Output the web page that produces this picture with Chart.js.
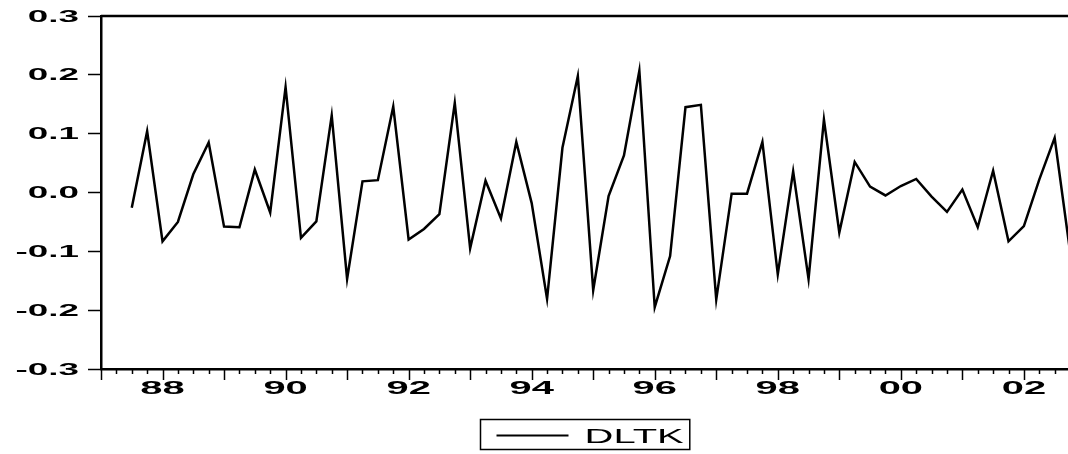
<!DOCTYPE html>
<html>
<head>
<meta charset="utf-8">
<script src="https://cdn.jsdelivr.net/npm/chart.js@4/dist/chart.umd.min.js"></script>
<style>
  html, body { margin: 0; padding: 0; background: #fff; }
  #chart { display: block; }
</style>
</head>
<body>
<canvas id="chart" width="1068" height="454"></canvas>
<script>
// Quarterly observations, 1987Q3 - 2002Q4
const quarters = [
    '1987Q3','1987Q4',
    '1988Q1','1988Q2','1988Q3','1988Q4','1989Q1','1989Q2','1989Q3','1989Q4',
    '1990Q1','1990Q2','1990Q3','1990Q4','1991Q1','1991Q2','1991Q3','1991Q4',
    '1992Q1','1992Q2','1992Q3','1992Q4','1993Q1','1993Q2','1993Q3','1993Q4',
    '1994Q1','1994Q2','1994Q3','1994Q4','1995Q1','1995Q2','1995Q3','1995Q4',
    '1996Q1','1996Q2','1996Q3','1996Q4','1997Q1','1997Q2','1997Q3','1997Q4',
    '1998Q1','1998Q2','1998Q3','1998Q4','1999Q1','1999Q2','1999Q3','1999Q4',
    '2000Q1','2000Q2','2000Q3','2000Q4','2001Q1','2001Q2','2001Q3','2001Q4',
    '2002Q1','2002Q2','2002Q3','2002Q4'
];

const dltk = [
    -0.026, 0.104,
    -0.083, -0.050, 0.031, 0.085, -0.058, -0.059, 0.039, -0.034,
    0.179, -0.077, -0.049, 0.131, -0.147, 0.019, 0.021, 0.146,
    -0.080, -0.062, -0.037, 0.152, -0.095, 0.020, -0.044, 0.086,
    -0.018, -0.181, 0.076, 0.198, -0.166, -0.006, 0.063, 0.207,
    -0.195, -0.108, 0.145, 0.149, -0.182, -0.002, -0.002, 0.086,
    -0.139, 0.036, -0.147, 0.124, -0.068, 0.052, 0.010, -0.005,
    0.011, 0.023, -0.007, -0.033, 0.005, -0.059, 0.037, -0.083,
    -0.057, 0.022, 0.093, -0.100
];

// Axis labels
const yTicks = [-0.3, -0.2, -0.1, 0.0, 0.1, 0.2, 0.3];
const yTickLabels = ['-0.3', '-0.2', '-0.1', '0.0', '0.1', '0.2', '0.3'];
const labelYears = [1988, 1990, 1992, 1994, 1996, 1998, 2000, 2002];
const yearLabels = ['88', '90', '92', '94', '96', '98', '00', '02'];

// quarter string -> fractional year on the x scale
function quarterToX(q) {
    const year = parseInt(q.slice(0, 4), 10);
    const qn = parseInt(q.slice(5), 10);
    return year + (qn - 1) / 4;
}

const points = quarters.map((q, i) => ({ x: quarterToX(q), y: dltk[i] }));

// stretched text, the scan is squeezed wide
function wideText(ctx, text, x, y, sx, align) {
    ctx.save();
    ctx.translate(x, y);
    ctx.scale(sx, 1);
    ctx.textAlign = align;
    ctx.fillText(text, 0, 0);
    ctx.restore();
}

const frameAndLabels = {
    id: 'frameAndLabels',
    afterDraw(chart) {
        const { ctx, chartArea, scales } = chart;
        const x = scales.x, y = scales.y;
        ctx.save();
        ctx.strokeStyle = '#000';
        ctx.fillStyle = '#000';

        // top frame line
        ctx.lineWidth = 2.5;
        ctx.beginPath();
        ctx.moveTo(chartArea.left, chartArea.top);
        ctx.lineTo(chartArea.right, chartArea.top);
        ctx.stroke();

        // quarter / year tick marks below the axis
        ctx.lineWidth = 1.5;
        x.ticks.forEach(t => {
            const q4 = t.value * 4;
            if (Math.abs(q4 - Math.round(q4)) > 1e-6) return;
            const px = Math.round(x.getPixelForValue(t.value)) + 0.5;
            const len = Math.round(q4) % 4 === 0 ? 11 : 5;
            ctx.beginPath();
            ctx.moveTo(px, chartArea.bottom);
            ctx.lineTo(px, chartArea.bottom + len);
            ctx.stroke();
        });

        // x labels
        ctx.font = 'bold 19px "Liberation Sans", Arial, sans-serif';
        ctx.textBaseline = 'alphabetic';
        labelYears.forEach((yr, i) => {
            wideText(ctx, yearLabels[i], x.getPixelForValue(yr), chartArea.bottom + 25, 2.1, 'center');
        });

        // y labels
        ctx.font = 'bold 16px "Liberation Sans", Arial, sans-serif';
        yTicks.forEach((v, i) => {
            wideText(ctx, yTickLabels[i], 79, y.getPixelForValue(v) + 5.5, 2.3, 'right');
        });

        // legend box
        const label = chart.data.datasets[0].label;
        ctx.font = '20px "Liberation Sans", Arial, sans-serif';
        const textW = ctx.measureText(label).width * 2.0;
        const boxW = 16 + 72 + 16 + textW + 6;
        const cx = (chartArea.left + chartArea.right) / 2;
        const bx = Math.round(cx - boxW / 2) + 0.5;
        const by = 419.5, bh = 30;
        ctx.lineWidth = 1.5;
        ctx.strokeRect(bx, by, boxW, bh);
        ctx.lineWidth = 2;
        ctx.beginPath();
        ctx.moveTo(bx + 16, by + bh / 2 + 1);
        ctx.lineTo(bx + 88, by + bh / 2 + 1);
        ctx.stroke();
        wideText(ctx, label, bx + 104, by + 23, 2.0, 'left');

        ctx.restore();
    }
};

const ctx = document.getElementById('chart').getContext('2d');
new Chart(ctx, {
    type: 'line',
    data: {
        datasets: [{
            label: 'DLTK',
            data: points,
            borderColor: '#000',
            borderWidth: 2.5,
            pointRadius: 0,
            fill: false,
            tension: 0
        }]
    },
    options: {
        responsive: false,
        animation: false,
        devicePixelRatio: 1,
        layout: { padding: { top: 16, right: 0, left: 0, bottom: 0 } },
        plugins: {
            legend: { display: false },
            tooltip: { enabled: false }
        },
        scales: {
            x: {
                type: 'linear',
                min: 1987,
                max: 2002.717,
                afterFit: s => { s.height = 85; },
                // one tick per quarter across the axis range
                afterBuildTicks: s => {
                    const t = [];
                    for (let q = Math.ceil(s.min * 4); q <= Math.floor(s.max * 4); q++) t.push({ value: q / 4 });
                    s.ticks = t;
                },
                ticks: { display: false },
                grid: { display: true, drawOnChartArea: false, drawTicks: false },
                border: { display: true, color: '#000', width: 2.5 }
            },
            y: {
                min: -0.3,
                max: 0.3,
                afterFit: s => { s.width = 101; },
                afterBuildTicks: s => { s.ticks = yTicks.map(v => ({ value: v })); },
                ticks: { display: false },
                grid: {
                    display: true,
                    drawOnChartArea: false,
                    drawTicks: true,
                    tickLength: 13,
                    tickColor: '#000',
                    tickWidth: 1.5
                },
                border: { display: true, color: '#000', width: 2.5 }
            }
        }
    },
    plugins: [frameAndLabels]
});
</script>
</body>
</html>
